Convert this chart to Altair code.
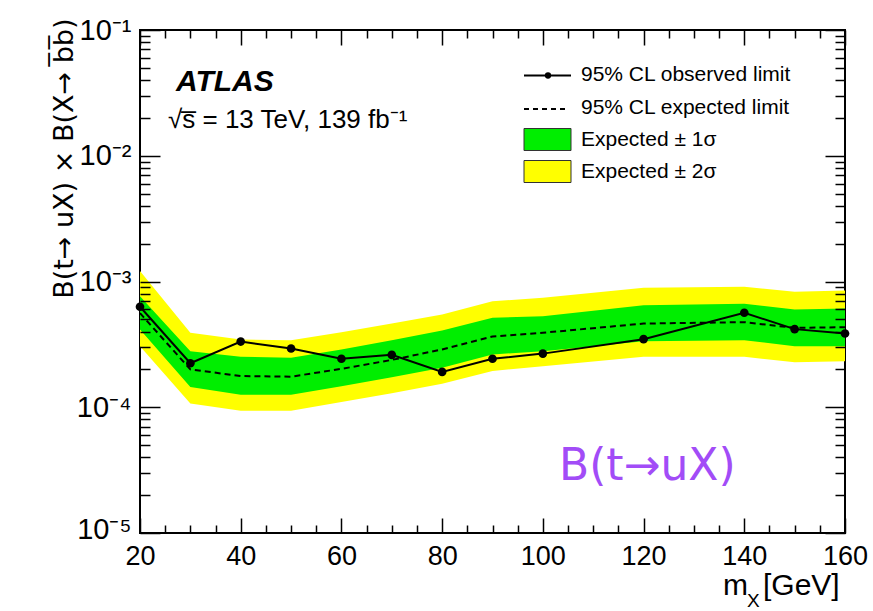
import altair as alt
import pandas as pd

# ---- data ----
mx = [20, 30, 40, 50, 60, 70, 80, 90, 100, 120, 140, 150, 160]
obs = [6.3e-4, 2.24e-4, 3.33e-4, 2.93e-4, 2.43e-4, 2.61e-4, 1.91e-4, 2.43e-4, 2.67e-4, 3.48e-4, 5.64e-4, 4.18e-4, 3.86e-4]
exp_ = [5.6e-4, 2.0e-4, 1.77e-4, 1.75e-4, 2.02e-4, 2.38e-4, 2.88e-4, 3.65e-4, 3.91e-4, 4.63e-4, 4.75e-4, 4.28e-4, 4.33e-4]
g_lo = [4.15e-4, 1.45e-4, 1.26e-4, 1.26e-4, 1.47e-4, 1.73e-4, 2.06e-4, 2.63e-4, 2.79e-4, 3.35e-4, 3.41e-4, 3.06e-4, 3.06e-4]
g_hi = [7.64e-4, 2.79e-4, 2.52e-4, 2.47e-4, 2.88e-4, 3.41e-4, 4.08e-4, 5.14e-4, 5.3e-4, 6.48e-4, 6.65e-4, 5.99e-4, 6.1e-4]
y_lo = [3.06e-4, 1.07e-4, 9.4e-5, 9.4e-5, 1.1e-4, 1.29e-4, 1.54e-4, 1.94e-4, 2.12e-4, 2.52e-4, 2.52e-4, 2.28e-4, 2.32e-4]
y_hi = [1.21e-3, 3.91e-4, 3.46e-4, 3.41e-4, 3.95e-4, 4.63e-4, 5.47e-4, 6.97e-4, 7.42e-4, 8.9e-4, 9.1e-4, 8.28e-4, 8.48e-4]

x_major = [20, 40, 60, 80, 100, 120, 140, 160]
x_minor = [v for v in range(25, 160, 5) if v % 20 != 0]
y_major = [1e-5, 1e-4, 1e-3, 1e-2, 1e-1]
y_minor = [k * 10.0 ** e for e in range(-5, -1) for k in range(2, 10)]

legend_labels = ["95% CL observed limit", "95% CL expected limit",
                 "Expected \u00b1 1\u03c3", "Expected \u00b1 2\u03c3"]

df = pd.DataFrame({"mx": mx, "obs": obs, "exp": exp_, "g_lo": g_lo, "g_hi": g_hi,
                   "y_lo": y_lo, "y_hi": y_hi})

FONT = "Liberation Sans"
W, H = 705, 503

xs = alt.Scale(domain=[20, 160], zero=False, nice=False)
ys = alt.Scale(type="log", domain=[1e-5, 1e-1], nice=False)


def tick_axis(orient, values, size):
    return alt.Axis(orient=orient, values=values, tickSize=size, offset=-size,
                    labels=False, domain=False, grid=False, title=None,
                    ticks=True, tickColor="black", tickWidth=1.5, zindex=2)


label_expr = ("datum.value > 0.05 ? '10\u207b\u00b9' : datum.value > 0.005 ? '10\u207b\u00b2' : "
              "datum.value > 0.0005 ? '10\u207b\u00b3' : datum.value > 0.00005 ? '10\u207b\u2074' : '10\u207b\u2075'")

main_x = alt.Axis(orient="bottom", values=x_major, ticks=False, domain=False, grid=False,
                  title=None, labelFontSize=27, labelFont=FONT, labelColor="black",
                  labelPadding=10, labelFlush=False)
main_y = alt.Axis(orient="left", values=y_major, ticks=False, domain=False, grid=False,
                  labelExpr=label_expr, labelFontSize=29, labelFont=FONT, labelColor="black",
                  labelPadding=9, labelFlush=False,
                  labelOffset={"condition": {"test": "datum.value < 0.00005", "value": -4}, "value": 0},
                  title="B(t\u2192 uX) \u00d7 B(X\u2192 b\u0305b\u0305)", titleFontSize=27,
                  titleFont="DejaVu Sans", titleFontWeight="normal", titleColor="black",
                  titleAngle=270, titleAlign="right", titleBaseline="middle",
                  titleX=-76, titleY=-12)

base = alt.Chart(df)

yellow = base.mark_area(color="#ffff00", opacity=1).encode(
    x=alt.X("mx:Q", scale=xs, axis=main_x),
    y=alt.Y("y_lo:Q", scale=ys, axis=main_y),
    y2="y_hi:Q",
)
green = base.mark_area(color="#00ee00", opacity=1).encode(
    x=alt.X("mx:Q", scale=xs, axis=tick_axis("bottom", x_major, 15)),
    y=alt.Y("g_lo:Q", scale=ys, axis=tick_axis("left", y_major, 20)),
    y2="g_hi:Q",
)
expected = base.mark_line(color="black", strokeWidth=2, strokeDash=[6, 4]).encode(
    x=alt.X("mx:Q", scale=xs, axis=tick_axis("bottom", x_minor, 8)),
    y=alt.Y("exp:Q", scale=ys, axis=tick_axis("left", y_minor, 10)),
)
observed = base.mark_line(color="black", strokeWidth=2).encode(
    x=alt.X("mx:Q", scale=xs, axis=tick_axis("top", x_major, 15)),
    y=alt.Y("obs:Q", scale=ys, axis=tick_axis("right", y_major, 20)),
)
points = base.mark_point(filled=True, color="black", size=75, opacity=1).encode(
    x=alt.X("mx:Q", scale=xs, axis=tick_axis("top", x_minor, 8)),
    y=alt.Y("obs:Q", scale=ys, axis=tick_axis("right", y_minor, 10)),
)

one = pd.DataFrame({"t": [""]})


def text(s, x, y, size, **kw):
    return alt.Chart(pd.DataFrame({"t": [s]})).mark_text(
        fontSize=size, font=kw.pop("font", FONT), align=kw.pop("align", "left"),
        baseline=kw.pop("baseline", "alphabetic"), color=kw.pop("color", "black"), **kw
    ).encode(text="t:N", x=alt.value(x), y=alt.value(y))


# legend
lx0, lx1, tx = 384, 431, 441
leg_obs_line = alt.Chart(one).mark_rule(color="black", strokeWidth=2).encode(
    x=alt.value(lx0), x2=alt.value(lx1), y=alt.value(45.5))
leg_obs_pt = alt.Chart(one).mark_point(filled=True, color="black", size=40, opacity=1).encode(
    x=alt.value(408), y=alt.value(45.5))
leg_exp_line = alt.Chart(one).mark_rule(color="black", strokeWidth=2, strokeDash=[5, 4]).encode(
    x=alt.value(lx0), x2=alt.value(429), y=alt.value(79))
leg_green = alt.Chart(one).mark_rect(color="#00ee00", stroke="#333333", strokeWidth=1).encode(
    x=alt.value(lx0), x2=alt.value(lx1), y=alt.value(98.5), y2=alt.value(120.5))
leg_yellow = alt.Chart(one).mark_rect(color="#ffff00", stroke="#333333", strokeWidth=1).encode(
    x=alt.value(lx0), x2=alt.value(lx1), y=alt.value(130.5), y2=alt.value(152.5))

texts = [
    text(legend_labels[0], tx, 45, 21, baseline="middle"),
    text(legend_labels[1], tx, 78, 21, baseline="middle"),
    text(legend_labels[2], tx, 110, 21, baseline="middle"),
    text(legend_labels[3], tx, 142, 21, baseline="middle"),
    text("ATLAS", 36, 61, 30, fontWeight="bold", fontStyle="italic"),
    text("\u221as\u0305 = 13 TeV, 139 fb\u207b\u00b9", 28, 98, 26),
    text("B(t\u2192uX)", 419, 450, 44, font="DejaVu Sans", color="#a24cf7"),
    text("m", 583, 565, 30),
    text("X", 607, 577, 19),
    text("[GeV]", 623, 565, 30),
]

chart = alt.layer(
    yellow, green, expected, observed, points,
    leg_obs_line, leg_obs_pt, leg_exp_line, leg_green, leg_yellow, *texts
).resolve_axis(x="independent", y="independent").properties(
    width=W, height=H,
    padding={"left": 140, "top": 30, "right": 28, "bottom": 78},
    autosize=alt.AutoSizeParams(type="none"),
    background="white",
).configure_view(stroke="black", strokeWidth=2, fill="white")

chart.save("out.html", embed_options={"renderer": "svg", "actions": False})
